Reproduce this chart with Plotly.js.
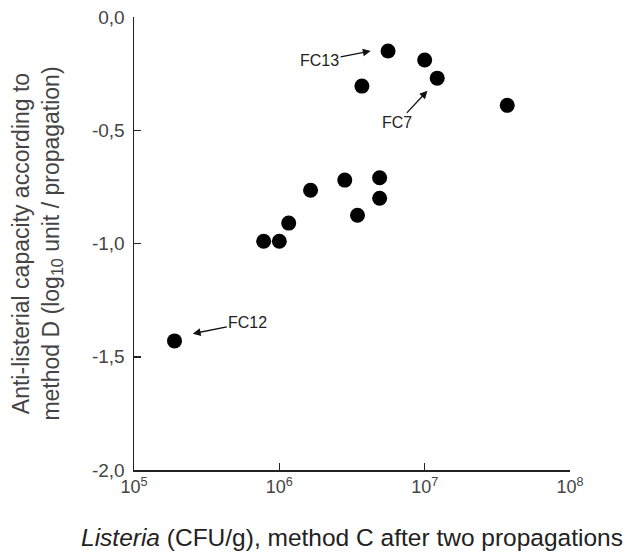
<!DOCTYPE html>
<html>
<head>
<meta charset="utf-8">
<script src="https://cdn.plot.ly/plotly-3.0.1.min.js"></script>
<style>html,body{margin:0;padding:0;background:#fff;}#chart{width:632px;height:553px;}</style>
</head>
<body>
<div id="chart"></div>
<script>
// Data
const listeriaCFU = [1.9e5, 7.8e5, 1.0e6, 1.16e6, 1.64e6, 2.82e6, 4.9e6, 4.9e6, 3.45e6, 5.6e6, 1.0e7, 1.22e7, 3.7e6, 3.7e7];
const antiListerial = [-1.43, -0.99, -0.99, -0.91, -0.765, -0.72, -0.71, -0.80, -0.875, -0.15, -0.19, -0.27, -0.305, -0.39];

const xTickVals = [1e5, 1e6, 1e7, 1e8];
const xTickText = ['10<sup>5</sup>', '10<sup>6</sup>', '10<sup>7</sup>', '10<sup>8</sup>'];
const yTickVals = [0, -0.5, -1.0, -1.5, -2.0];
const yTickText = ['0,0', '-0,5', '-1,0', '-1,5', '-2,0'];

const annLabels = ['FC13', 'FC7', 'FC12'];
const annHeadX = [4.25e6, 1.045e7, 2.54e5];
const annHeadY = [-0.15, -0.326, -1.398];
const annOffX = [-51, -30, 55];
const annOffY = [10, 32, -11];

const FONT = 'Arial, "Liberation Sans", sans-serif';

const trace = {
  x: listeriaCFU,
  y: antiListerial,
  type: 'scatter',
  mode: 'markers',
  marker: {color: '#000', size: 15, symbol: 'circle'},
  hoverinfo: 'x+y',
  showlegend: false
};

const annotations = annLabels.map((t, i) => ({
  x: Math.log10(annHeadX[i]), y: annHeadY[i], xref: 'x', yref: 'y',
  text: t, showarrow: true, ax: annOffX[i], ay: annOffY[i],
  arrowhead: 2, arrowsize: 1.2, arrowwidth: 1.3, arrowcolor: '#111',
  font: {family: FONT, size: 16, color: '#222'}
}));

const layout = {
  width: 632, height: 553,
  margin: {l: 134, r: 62, t: 17, b: 83},
  paper_bgcolor: '#fff', plot_bgcolor: '#fff',
  font: {family: FONT, color: '#222'},
  showlegend: false,
  xaxis: {
    type: 'log', range: [5, 8],
    tickvals: xTickVals, ticktext: xTickText,
    ticks: 'inside', ticklen: 7, tickwidth: 1.5, tickcolor: '#222',
    showline: true, linecolor: '#222', linewidth: 1.5,
    showgrid: false, zeroline: false,
    tickfont: {family: FONT, size: 18, color: '#444'},
    title: {text: '<i>Listeria</i> (CFU/g), method C after two propagations',
            font: {family: FONT, size: 24.5, color: '#222'}, standoff: 33}
  },
  yaxis: {
    range: [-2, 0],
    tickvals: yTickVals, ticktext: yTickText,
    ticks: 'inside', ticklen: 7, tickwidth: 1.5, tickcolor: '#222',
    showline: true, linecolor: '#222', linewidth: 1.5,
    showgrid: false, zeroline: false,
    ticklabelstandoff: 4,
    tickfont: {family: FONT, size: 19, color: '#444'},
    title: {text: 'Anti-listerial capacity according to<br>method D (log<sub>10</sub> unit / propagation)',
            font: {family: FONT, size: 23, color: '#444'}, standoff: 26}
  },
  annotations: annotations
};

Plotly.newPlot('chart', [trace], layout, {displayModeBar: false, staticPlot: true});
</script>
</body>
</html>
